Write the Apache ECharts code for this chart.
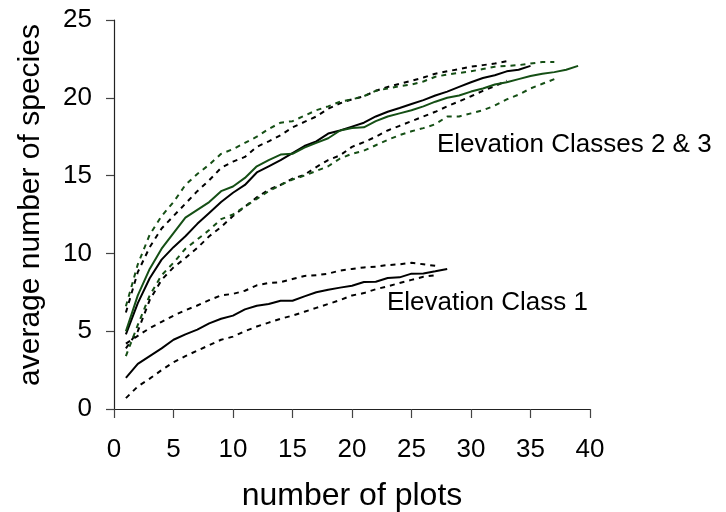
<!DOCTYPE html>
<html>
<head>
<meta charset="utf-8">
<script src="https://cdn.jsdelivr.net/npm/echarts@6/dist/echarts.min.js"></script>
<style>
  html, body { margin: 0; padding: 0; background: #fff; }
  #chart { width: 726px; height: 512px; }
</style>
</head>
<body>
<div id="chart"></div>
<script>
// Species accumulation curves: mean and confidence bounds, by elevation class
const xTicks = [0, 5, 10, 15, 20, 25, 30, 35, 40];
const yTicks = [0, 5, 10, 15, 20, 25];

// Elevation classes 2 & 3 — black series (class 2)
const class2Mean = [4.8, 6.8, 8.4, 9.6, 10.4, 11.1, 11.9, 12.6, 13.3, 13.9, 14.4, 15.2, 15.6, 16.0, 16.45,
  16.9, 17.2, 17.7, 17.9, 18.15, 18.4, 18.8, 19.1, 19.34, 19.6, 19.85, 20.15, 20.4, 20.7, 21.0,
  21.27, 21.45, 21.7, 21.8, 22.05];
const class2Upper = [6.2, 8.8, 10.4, 11.6, 12.4, 13.2, 14.0, 14.7, 15.5, 15.9, 16.2, 16.85, 17.2, 17.6, 18.1,
  18.45, 18.8, 19.3, 19.65, 19.9, 20.1, 20.45, 20.7, 20.9, 21.1, 21.3, 21.55, 21.7, 21.85, 22.0,
  22.1, 22.2, 22.35];
const class2Lower = [3.9, 5.0, 7.0, 8.3, 9.1, 9.7, 10.35, 11.1, 11.7, 12.4, 13.0, 13.6, 14.1, 14.4, 14.8,
  15.05, 15.55, 16.0, 16.3, 16.85, 17.15, 17.5, 17.9, 18.2, 18.5, 18.8, 19.1, 19.45, 19.77, 20.1,
  20.45, 20.75, 21.1];

// Elevation classes 2 & 3 — green series (class 3)
const class3Mean = [5.0, 7.3, 9.0, 10.3, 11.3, 12.3, 12.8, 13.3, 14.0, 14.3, 14.85, 15.6, 16.0, 16.35, 16.4,
  16.8, 17.1, 17.4, 17.9, 18.06, 18.1, 18.5, 18.8, 19.0, 19.2, 19.45, 19.75, 20.0, 20.15, 20.4,
  20.6, 20.85, 21.0, 21.2, 21.4, 21.55, 21.65, 21.8, 22.05];
const class3Upper = [6.6, 9.3, 11.2, 12.4, 13.3, 14.4, 15.1, 15.7, 16.4, 16.7, 17.1, 17.5, 18.0, 18.4, 18.5,
  18.85, 19.2, 19.45, 19.75, 19.9, 20.1, 20.45, 20.6, 20.75, 20.85, 21.05, 21.35, 21.5, 21.6, 21.7,
  21.85, 22.0, 22.05, 22.1, 22.2, 22.3, 22.3];
const class3Lower = [3.4, 5.4, 7.3, 8.6, 9.4, 10.3, 10.9, 11.5, 12.2, 12.5, 13.0, 13.5, 14.0, 14.4, 14.75,
  15.0, 15.3, 15.6, 16.1, 16.4, 16.6, 16.95, 17.3, 17.6, 17.85, 18.05, 18.3, 18.8, 18.8, 19.0,
  19.2, 19.5, 19.9, 20.2, 20.6, 20.9, 21.2];

// Elevation class 1
const class1Mean = [2.0, 2.9, 3.4, 3.9, 4.45, 4.8, 5.1, 5.5, 5.8, 6.0, 6.4, 6.64, 6.75, 6.96, 6.96,
  7.24, 7.5, 7.67, 7.8, 7.92, 8.16, 8.18, 8.42, 8.46, 8.7, 8.71, 8.85, 9.0];
const class1Upper = [4.2, 4.7, 5.2, 5.6, 6.0, 6.35, 6.65, 7.0, 7.3, 7.4, 7.6, 7.95, 8.1, 8.15, 8.35,
  8.55, 8.6, 8.7, 8.9, 9.0, 9.1, 9.15, 9.25, 9.3, 9.4, 9.3, 9.2];
const class1Lower = [0.7, 1.45, 1.95, 2.5, 3.0, 3.4, 3.75, 4.1, 4.45, 4.65, 5.0, 5.3, 5.55, 5.8, 6.0,
  6.25, 6.5, 6.75, 7.0, 7.3, 7.45, 7.7, 7.88, 8.1, 8.3, 8.5, 8.6];

const BLACK = '#000000';
const GREEN = '#154f15';
const FONT = '"Liberation Sans", Arial, Helvetica, sans-serif';

// plot number runs from 1 upward
const pairs = arr => arr.map((v, i) => [i + 1, v]);

function curve(name, data, color, dashed) {
  return {
    name: name,
    type: 'line',
    data: pairs(data),
    symbol: 'none',
    silent: true,
    z: dashed ? 2 : 3,
    lineStyle: {
      color: color,
      width: 2,
      type: dashed ? [5, 5] : 'solid'
    }
  };
}

const chart = echarts.init(document.getElementById('chart'), null, { renderer: 'canvas' });

chart.setOption({
  animation: false,
  backgroundColor: '#ffffff',
  grid: { left: 114, right: 136, top: 20, bottom: 103, containLabel: false },
  xAxis: {
    type: 'value',
    min: xTicks[0],
    max: xTicks[xTicks.length - 1],
    interval: 5,
    splitLine: { show: false },
    axisLine: { show: true, onZero: false, lineStyle: { color: '#222', width: 1.2 } },
    axisTick: { show: true, inside: false, length: 9, lineStyle: { color: '#444', width: 1.2 } },
    axisLabel: { color: '#000', fontSize: 26, fontFamily: FONT, margin: 28 }
  },
  yAxis: {
    type: 'value',
    min: yTicks[0],
    max: yTicks[yTicks.length - 1],
    interval: 5,
    splitLine: { show: false },
    axisLine: { show: true, onZero: false, lineStyle: { color: '#222', width: 1.2 } },
    axisTick: { show: true, inside: false, length: 8, lineStyle: { color: '#444', width: 1.2 } },
    axisLabel: { color: '#000', fontSize: 26, fontFamily: FONT, margin: 22 }
  },
  series: [
    curve('Class 1 upper', class1Upper, BLACK, true),
    curve('Class 1 lower', class1Lower, BLACK, true),
    curve('Class 2 upper', class2Upper, BLACK, true),
    curve('Class 2 lower', class2Lower, BLACK, true),
    curve('Class 3 upper', class3Upper, GREEN, true),
    curve('Class 3 lower', class3Lower, GREEN, true),
    curve('Class 1', class1Mean, BLACK, false),
    curve('Class 2', class2Mean, BLACK, false),
    curve('Class 3', class3Mean, GREEN, false)
  ],
  graphic: [
    {
      type: 'text', left: 437, top: 132, silent: true,
      style: { text: 'Elevation Classes 2 & 3', fill: '#000', font: '26px ' + FONT }
    },
    {
      type: 'text', left: 387, top: 290, silent: true,
      style: { text: 'Elevation Class 1', fill: '#000', font: '26px ' + FONT }
    },
    {
      type: 'text', x: 352, y: 496, silent: true,
      style: { text: 'number of plots', fill: '#000', font: '32px ' + FONT, align: 'center', verticalAlign: 'middle' }
    },
    {
      type: 'text', x: 31, y: 205, rotation: Math.PI / 2, silent: true,
      style: { text: 'average number of species', fill: '#000', font: '30px ' + FONT, align: 'center', verticalAlign: 'middle' }
    }
  ]
});
</script>
</body>
</html>
